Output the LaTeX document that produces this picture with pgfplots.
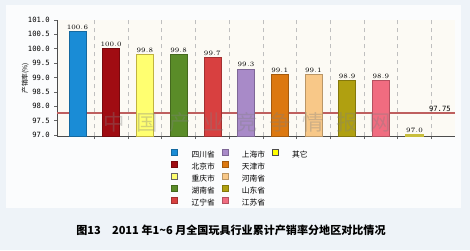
\documentclass[border=0pt]{standalone}
\usepackage{pgfplots}
\pgfplotsset{compat=1.18}
\usepackage{fontspec}
\newfontfamily\cjk{Noto Sans CJK SC}
\newfontfamily\monof{DejaVu Sans Mono}
\definecolor{bgout}{RGB}{238,243,248}
\definecolor{panel}{RGB}{251,252,253}
\definecolor{plotbg}{RGB}{252,250,244}
\definecolor{refline}{RGB}{190,95,95}
\definecolor{c1}{RGB}{26,140,214}
\definecolor{c2}{RGB}{160,12,18}
\definecolor{c3}{RGB}{255,255,112}
\definecolor{c4}{RGB}{90,140,40}
\definecolor{c5}{RGB}{216,64,64}
\definecolor{c6}{RGB}{168,138,200}
\definecolor{c7}{RGB}{220,120,16}
\definecolor{c8}{RGB}{248,200,136}
\definecolor{c9}{RGB}{176,160,16}
\definecolor{c10}{RGB}{240,108,128}
\definecolor{c11}{RGB}{255,255,0}
\definecolor{c11line}{RGB}{200,190,60}
\pgfplotsset{
  mybar/.style={fill=#1, draw=#1!75!black, line width=0.4pt,
    nodes near coords={\pgfmathprintnumber[fixed,fixed zerofill,precision=1]{\pgfplotspointmeta}},
    every node near coord/.append style={font=\monof\fontsize{5.4}{6}\selectfont, inner sep=1.3pt, text=black}},
}
\begin{document}
\begin{tikzpicture}[x=0.75pt,y=0.75pt]
\fill[bgout] (0,0) rectangle (470,250);
\fill[panel] (6,42) rectangle (461,245);
\coordinate (A) at (57,113.6);
\begin{axis}[
  at={(A)}, anchor=south west, scale only axis,
  width=298.5pt, height=87.3pt,
  xmin=-0.607, xmax=11.2, ymin=96.95, ymax=101,
  axis lines=left, axis line style={-, draw=black!70, line width=0.5pt},
  axis background/.style={fill=plotbg},
  ytick={97,97.5,98,98.5,99,99.5,100,100.5,101},
  yticklabel style={font=\monof\fontsize{5.4}{6}\selectfont, /pgf/number format/.cd, fixed, fixed zerofill, precision=1, assume math mode=true},
  xtick={0.5,1.5,...,10.5}, xticklabels={},
  xmajorgrids, major x grid style={dashed, black!25, line width=0.4pt},
  tick style={black!60, line width=0.4pt}, major tick length=2pt, tick align=outside,
  ylabel={产销率(\%)},
  ylabel style={font=\cjk\fontsize{5}{6}\selectfont, at={(axis description cs:-0.08,0.5)}, anchor=center},
  ybar, bar width=12.75pt, bar shift=0pt,
  legend image code/.code={\draw[#1, line width=0.4pt] (0pt,0pt) rectangle (4.5pt,4.5pt); \path[draw=none, fill=none] (0pt,0pt) -- (15pt,0pt);},
  legend columns=3, legend cell align=left,
  legend style={at={(axis description cs:0.2764,-0.085)}, anchor=north west, draw=none, fill=none,
    column sep=0pt, row sep=1.0pt, nodes={inner sep=0pt, font=\cjk\fontsize{5.8}{6}\selectfont}},
]
\addplot[sharp plot, draw=refline, line width=1.5pt, forget plot] coordinates {(-0.607,97.75) (11.2,97.75)};
\addplot[mybar=c1, forget plot] coordinates {(0,100.6)};
\addplot[mybar=c2, forget plot] coordinates {(1,100.0)};
\addplot[mybar=c3, draw=c9!80, forget plot] coordinates {(2,99.8)};
\addplot[mybar=c4, forget plot] coordinates {(3,99.8)};
\addplot[mybar=c5, forget plot] coordinates {(4,99.7)};
\addplot[mybar=c6, forget plot] coordinates {(5,99.3)};
\addplot[mybar=c7, forget plot] coordinates {(6,99.1)};
\addplot[mybar=c8, forget plot] coordinates {(7,99.1)};
\addplot[mybar=c9, forget plot] coordinates {(8,98.9)};
\addplot[mybar=c10, forget plot] coordinates {(9,98.9)};
\addplot[mybar=c11, draw=c11line, line width=1.2pt, forget plot] coordinates {(10,97.0)};
% legend, row-major order so that it reads column by column
\addlegendimage{fill=c1, draw=c1!75!black}\addlegendentry{\makebox[22.5pt][l]{四川省}}
\addlegendimage{fill=c6, draw=c6!75!black}\addlegendentry{\makebox[22.5pt][l]{上海市}}
\addlegendimage{fill=c11, draw=black!70}\addlegendentry{\makebox[22.5pt][l]{其它}}
\addlegendimage{fill=c2, draw=c2!75!black}\addlegendentry{\makebox[22.5pt][l]{北京市}}
\addlegendimage{fill=c7, draw=c7!75!black}\addlegendentry{\makebox[22.5pt][l]{天津市}}
\addlegendimage{empty legend}\addlegendentry{}
\addlegendimage{fill=c3, draw=black!60}\addlegendentry{\makebox[22.5pt][l]{重庆市}}
\addlegendimage{fill=c8, draw=c8!75!black}\addlegendentry{\makebox[22.5pt][l]{河南省}}
\addlegendimage{empty legend}\addlegendentry{}
\addlegendimage{fill=c4, draw=c4!75!black}\addlegendentry{\makebox[22.5pt][l]{湖南省}}
\addlegendimage{fill=c9, draw=c9!75!black}\addlegendentry{\makebox[22.5pt][l]{山东省}}
\addlegendimage{empty legend}\addlegendentry{}
\addlegendimage{fill=c5, draw=c5!75!black}\addlegendentry{\makebox[22.5pt][l]{辽宁省}}
\addlegendimage{fill=c10, draw=c10!75!black}\addlegendentry{\makebox[22.5pt][l]{江苏省}}
\addlegendimage{empty legend}\addlegendentry{}
\node[anchor=south east, font=\monof\fontsize{5.4}{6}\selectfont, inner sep=1pt] at (axis cs:11.12,97.75) {97.75};
\node[font=\cjk\fontsize{16}{16}\selectfont, text=gray, opacity=0.35] at (axis cs:5.03,97.42)
  {中\hspace{9pt}国\hspace{9pt}产\hspace{9pt}业\hspace{9pt}竞\hspace{9pt}争\hspace{9pt}情\hspace{9pt}报\hspace{9pt}网};
\end{axis}
\node[font=\cjk\bfseries\fontsize{8.3}{10}\selectfont] at (231,20) {图13\quad 2011 年1\textasciitilde 6 月全国玩具行业累计产销率分地区对比情况};
\pgfresetboundingbox
\path[use as bounding box] (0,0) rectangle (470,250);
\end{tikzpicture}
\end{document}
